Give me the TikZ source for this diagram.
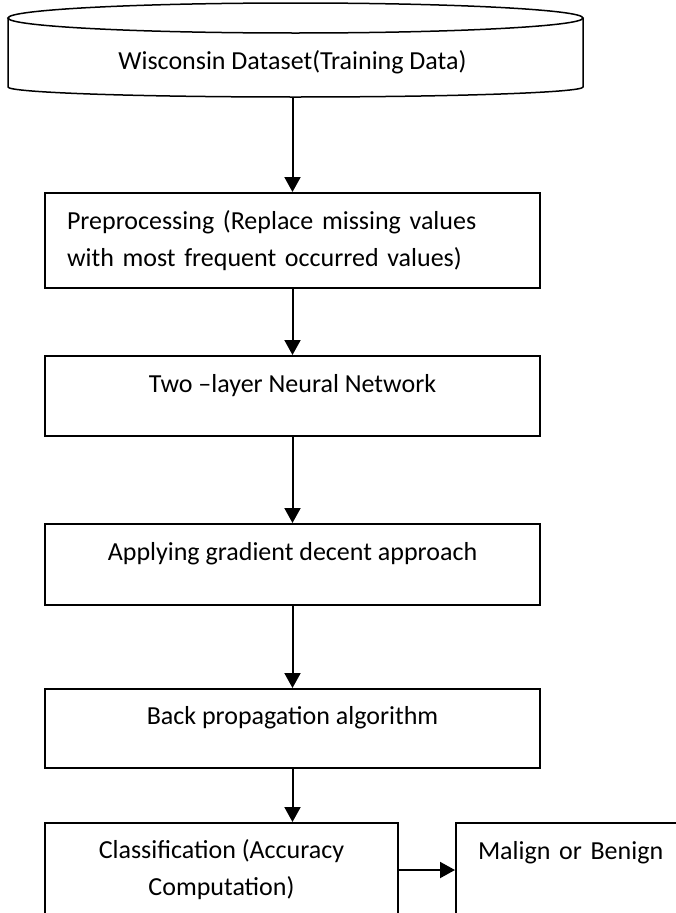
\documentclass[tikz,border=0pt]{standalone}
\usepackage{fontspec}
\setmainfont{Carlito}
\usetikzlibrary{arrows.meta}

\begin{document}
\begin{tikzpicture}[x=1pt,y=-1pt]
\tikzstyle{every node}=[inner sep=0pt, font=\fontsize{26}{37}\selectfont]
\tikzstyle{box}=[draw, line width=2pt, anchor=north]
\tikzstyle{stepbox}=[box, minimum width=495pt, text height=36pt, text depth=44pt]
\tikzstyle{flow}=[line width=2pt, -{Triangle[length=15pt,width=16pt]}]
\useasboundingbox (0,0) rectangle (676,913);
\clip (0,0) rectangle (676,913);
% data store on top
\draw[line width=1.5pt] (295.5,18) ellipse [x radius=287.5, y radius=15];
\draw[line width=1.5pt] (8,18) -- (8,87) arc [start angle=180, end angle=0, x radius=287.5, y radius=10] -- (583,18);
\draw (292.5,62) node (s0) [minimum height=70pt] {Wisconsin Dataset(Training Data)};
% processing steps
\draw (292.5,192) node (s1) [box, minimum width=495pt, minimum height=95pt, text width=451pt, align=left] {Preprocessing (Replace missing values\\with most frequent occurred values)};
\draw (292.5,355) node (s2) [stepbox] {Two –layer Neural Network};
\draw (292.5,523) node (s3) [stepbox, text depth=45pt] {Applying gradient decent approach};
\draw (292.5,688) node (s4) [stepbox, text height=35pt] {Back propagation algorithm};
\draw (221.5,822) node (s5) [box, minimum width=353pt, minimum height=94pt, align=center] {Classification (Accuracy\\Computation)};
\draw (455,822) node (s6) [box, anchor=north west, minimum width=260pt, text width=216pt, align=left, text height=36pt, text depth=60pt] {Malign or Benign};
% arrows
\draw[flow] (s0.south) -- (s1.north);
\draw[flow] (s1.south) -- (s2.north);
\draw[flow] (s2.south) -- (s3.north);
\draw[flow] (s3.south) -- (s4.north);
\draw[flow] (s4.south) -- (s4.south |- s5.north);
\draw[flow] (s5.east) -- (s5.east -| s6.west);
\end{tikzpicture}
\end{document}
